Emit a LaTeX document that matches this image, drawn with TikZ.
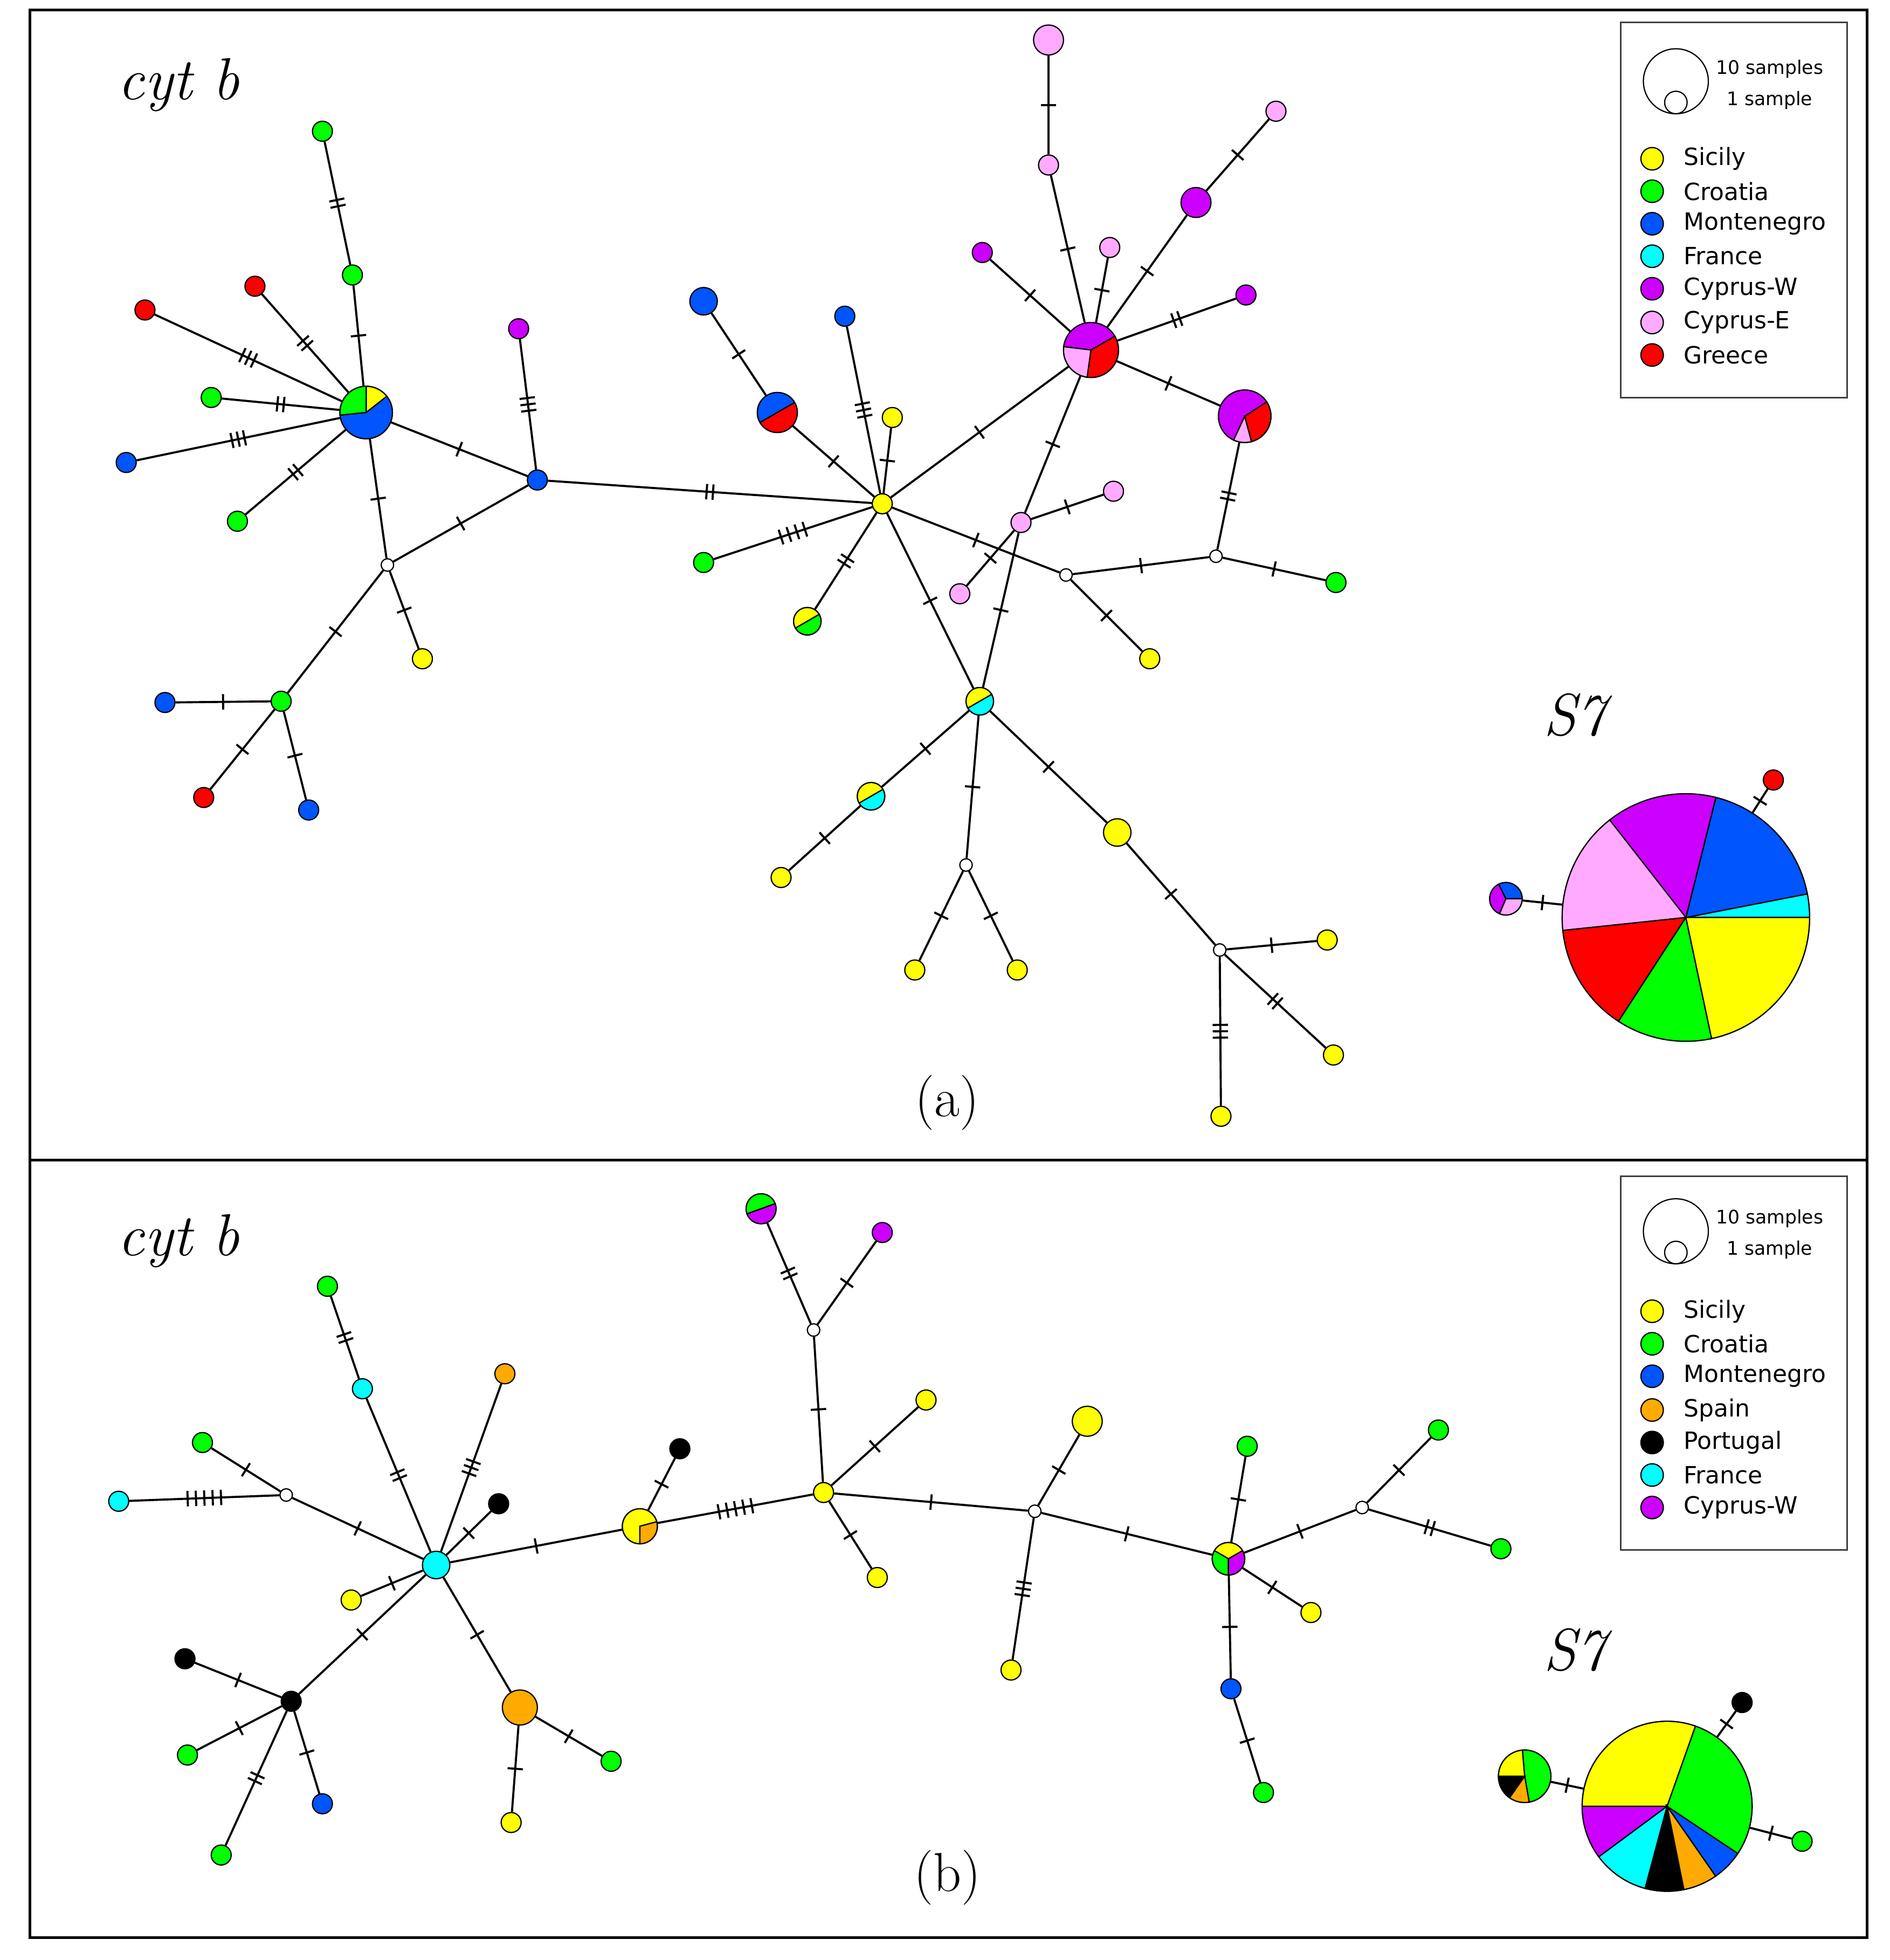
\documentclass[tikz,border=0pt]{standalone}
\usepackage{fontspec}
\newfontfamily\lgf{DejaVu Sans}
\usetikzlibrary{decorations.markings}
\definecolor{cY}{RGB}{255,255,0}
\definecolor{cG}{RGB}{0,255,0}
\definecolor{cB}{RGB}{0,85,255}
\definecolor{cC}{RGB}{0,255,255}
\definecolor{cP}{RGB}{204,0,255}
\definecolor{cK}{RGB}{255,170,255}
\definecolor{cR}{RGB}{255,0,0}
\definecolor{cO}{RGB}{255,170,0}
\newcommand\tks[1]{\foreach \k in {1,...,#1}{\draw[line width=0.95pt] ({(\k-(#1+1)/2)*(#1>3 ? 3.8 : 2.9)*1pt},-3.5pt) -- ++(0,7pt);}}
\newcommand\pw[5]{\filldraw[fill=#5,draw=black,line width=0.55pt] (#1.center) -- ++({-(#3)}:#2) arc[start angle={-(#3)},end angle={-(#4)},radius=#2] -- cycle;}
\begin{document}
\begin{tikzpicture}[x=0.02cm,y=-0.02cm,
  hp/.style={circle,draw=black,line width=0.55pt,inner sep=0pt,minimum size=#1*0.04cm},
  ed/.style={line width=0.95pt},
  tk/.style={postaction={decorate,decoration={markings,mark=at position 0.5 with {\tks{#1}}}}},
  ttl/.style={font=\fontsize{27}{30}\selectfont\itshape},
  lab/.style={font=\fontsize{25}{28}\selectfont},
  lgt/.style={font=\lgf\fontsize{10.8}{13}\selectfont,anchor=west,inner sep=0pt},
  lgs/.style={font=\lgf\fontsize{8.5}{10}\selectfont,inner sep=0pt}]
\useasboundingbox (0,0) rectangle (1512,1568);
\fill[white] (0,0) rectangle (1512,1568);
\draw[line width=1.1pt] (24,8) rectangle (1494,1550);
\draw[line width=1.1pt] (24,928) -- (1494,928);

% ---------- labels
\node[ttl] (ta) at (143,68) {cyt b};
\node[ttl] (tb) at (143,993) {cyt b};
\node[lab] (la) at (758,882) {(a)};
\node[lab] (lb) at (758,1502) {(b)};
\node[ttl] (s7a) at (1260,572) {S7};
\node[ttl] (s7b) at (1260,1320) {S7};

% ---------- legend (a)
\draw[line width=0.8pt,draw=black!75] (1297,18) rectangle (1478,318);
\node[hp=26,fill=white] (lga1) at (1341,65) {};
\node[hp=9,fill=white] (lga2) at (1341,82) {};
\node[lgs] (lgat1) at (1416,55) {10 samples};
\node[lgs] (lgat2) at (1416,80) {1 sample};
\node[hp=9,fill=cY] (lgaY) at (1322,127) {};
\node[hp=9,fill=cG] (lgaG) at (1322,153) {};
\node[hp=9,fill=cB] (lgaB) at (1322,179) {};
\node[hp=9,fill=cC] (lgaC) at (1322,205) {};
\node[hp=9,fill=cP] (lgaP) at (1322,231) {};
\node[hp=9,fill=cK] (lgaK) at (1322,258) {};
\node[hp=9,fill=cR] (lgaR) at (1322,284) {};
\node[lgt] (lgatY) at (1347,127) {Sicily};
\node[lgt] (lgatG) at (1347,153) {Croatia};
\node[lgt] (lgatB) at (1347,179) {Montenegro};
\node[lgt] (lgatC) at (1347,205) {France};
\node[lgt] (lgatP) at (1347,231) {Cyprus-W};
\node[lgt] (lgatK) at (1347,258) {Cyprus-E};
\node[lgt] (lgatR) at (1347,284) {Greece};

% ---------- legend (b)
\draw[line width=0.8pt,draw=black!75] (1297,941) rectangle (1478,1240);
\node[hp=26,fill=white] (lgb1) at (1341,985) {};
\node[hp=9,fill=white] (lgb2) at (1341,1002) {};
\node[lgs] (lgbt1) at (1416,975) {10 samples};
\node[lgs] (lgbt2) at (1416,1000) {1 sample};
\node[hp=9,fill=cY] (lgbY) at (1322,1049) {};
\node[hp=9,fill=cG] (lgbG) at (1322,1075) {};
\node[hp=9,fill=cB] (lgbB) at (1322,1101) {};
\node[hp=9,fill=cO] (lgbO) at (1322,1128) {};
\node[hp=9,fill=black] (lgbK) at (1322,1154) {};
\node[hp=9,fill=cC] (lgbC) at (1322,1180) {};
\node[hp=9,fill=cP] (lgbP) at (1322,1206) {};
\node[lgt] (lgbtY) at (1347,1049) {Sicily};
\node[lgt] (lgbtG) at (1347,1075) {Croatia};
\node[lgt] (lgbtB) at (1347,1101) {Montenegro};
\node[lgt] (lgbtO) at (1347,1128) {Spain};
\node[lgt] (lgbtK) at (1347,1154) {Portugal};
\node[lgt] (lgbtC) at (1347,1180) {France};
\node[lgt] (lgbtP) at (1347,1206) {Cyprus-W};

% ================= panel (a) nodes
\node[hp=21] (ahub) at (293,330) {};
\node[hp=8,fill=cG] (aG1) at (258,105) {};
\node[hp=8,fill=cG] (aG2) at (282,220) {};
\node[hp=8,fill=cR] (aR1) at (204,229) {};
\node[hp=8,fill=cR] (aR2) at (116,248) {};
\node[hp=8,fill=cG] (aG3) at (169,318) {};
\node[hp=8,fill=cB] (aB1) at (101,370) {};
\node[hp=8,fill=cG] (aG4) at (190,417) {};
\node[hp=8,fill=cB] (aB2) at (430,384) {};
\node[hp=8,fill=cP] (aP1) at (415,263) {};
\node[hp=5,fill=white] (aW1) at (310,452) {};
\node[hp=8,fill=cY] (aY1) at (338,527) {};
\node[hp=8,fill=cG] (aG5) at (225,561) {};
\node[hp=8,fill=cB] (aB3) at (132,562) {};
\node[hp=8,fill=cR] (aR3) at (163,638) {};
\node[hp=8,fill=cB] (aB4) at (247,648) {};
\node[hp=8,fill=cY] (aY) at (706,403) {};
\node[hp=16] (aBR) at (622,330) {};
\node[hp=11,fill=cB] (aB5) at (563,241) {};
\node[hp=8,fill=cB] (aB6) at (676,253) {};
\node[hp=8,fill=cY] (aY2) at (714,334) {};
\node[hp=8,fill=cG] (aG6) at (563,450) {};
\node[hp=11] (aYG) at (646,497) {};
\node[hp=22] (aP) at (873,280) {};
\node[hp=12,fill=cK] (aK1) at (839,32) {};
\node[hp=8,fill=cK] (aK2) at (839,132) {};
\node[hp=8,fill=cP] (aP2) at (786,202) {};
\node[hp=8,fill=cK] (aK3) at (888,198) {};
\node[hp=12,fill=cP] (aP3) at (957,162) {};
\node[hp=8,fill=cK] (aK4) at (1021,89) {};
\node[hp=8,fill=cP] (aP4) at (997,236) {};
\node[hp=21] (aQ) at (996,333) {};
\node[hp=5,fill=white] (aW2) at (973,445) {};
\node[hp=8,fill=cG] (aG7) at (1069,466) {};
\node[hp=5,fill=white] (aW3) at (853,460) {};
\node[hp=8,fill=cY] (aY3) at (920,527) {};
\node[hp=8,fill=cK] (aK5) at (817,418) {};
\node[hp=8,fill=cK] (aK6) at (891,393) {};
\node[hp=8,fill=cK] (aK7) at (768,475) {};
\node[hp=11] (aYC) at (784,561) {};
\node[hp=11] (aYC2) at (697,637) {};
\node[hp=8,fill=cY] (aY4) at (625,702) {};
\node[hp=5,fill=white] (aW4) at (773,692) {};
\node[hp=8,fill=cY] (aY5) at (732,776) {};
\node[hp=8,fill=cY] (aY6) at (814,776) {};
\node[hp=11,fill=cY] (aY7) at (894,666) {};
\node[hp=5,fill=white] (aW5) at (976,760) {};
\node[hp=8,fill=cY] (aY8) at (1062,752) {};
\node[hp=8,fill=cY] (aY9) at (1067,844) {};
\node[hp=8,fill=cY] (aY10) at (977,893) {};
\node[hp=99] (aS) at (1349,734) {};
\node[hp=13] (aS2) at (1205,719) {};
\node[hp=8,fill=cR] (aR4) at (1419,624) {};

% pies (a)
\pw{ahub}{21}{38}{90}{cY}\pw{ahub}{21}{90}{186}{cG}\pw{ahub}{21}{186}{398}{cB}
\pw{aBR}{16}{30}{210}{cB}\pw{aBR}{16}{210}{390}{cR}
\pw{aYG}{11}{30}{210}{cY}\pw{aYG}{11}{210}{390}{cG}
\pw{aP}{22}{30}{173}{cP}\pw{aP}{22}{173}{262}{cK}\pw{aP}{22}{262}{390}{cR}
\pw{aQ}{21}{33}{245}{cP}\pw{aQ}{21}{245}{285}{cK}\pw{aQ}{21}{285}{393}{cR}
\pw{aYC}{11}{30}{210}{cY}\pw{aYC}{11}{210}{390}{cC}
\pw{aYC2}{11}{30}{210}{cY}\pw{aYC2}{11}{210}{390}{cC}
\pw{aS}{99}{0}{11}{cC}\pw{aS}{99}{11}{76}{cB}\pw{aS}{99}{76}{128}{cP}\pw{aS}{99}{128}{186}{cK}
\pw{aS}{99}{186}{237}{cR}\pw{aS}{99}{237}{282}{cG}\pw{aS}{99}{282}{360}{cY}
\pw{aS2}{13}{0}{117}{cB}\pw{aS2}{13}{117}{247}{cP}\pw{aS2}{13}{247}{360}{cK}

% edges (a)
\draw[ed,tk=2] (aG1) -- (aG2);
\draw[ed,tk=1] (aG2) -- (ahub);
\draw[ed,tk=2] (aR1) -- (ahub);
\draw[ed,tk=3] (aR2) -- (ahub);
\draw[ed,tk=2] (aG3) -- (ahub);
\draw[ed,tk=3] (aB1) -- (ahub);
\draw[ed,tk=2] (aG4) -- (ahub);
\draw[ed,tk=1] (ahub) -- (aB2);
\draw[ed,tk=3] (aP1) -- (aB2);
\draw[ed,tk=1] (ahub) -- (aW1);
\draw[ed,tk=1] (aW1) -- (aB2);
\draw[ed,tk=1] (aW1) -- (aY1);
\draw[ed,tk=1] (aW1) -- (aG5);
\draw[ed,tk=1] (aG5) -- (aB3);
\draw[ed,tk=1] (aG5) -- (aR3);
\draw[ed,tk=1] (aG5) -- (aB4);
\draw[ed,tk=2] (aB2) -- (aY);
\draw[ed,tk=1] (aB5) -- (aBR);
\draw[ed,tk=1] (aBR) -- (aY);
\draw[ed,tk=3] (aB6) -- (aY);
\draw[ed,tk=1] (aY2) -- (aY);
\draw[ed,tk=4] (aG6) -- (aY);
\draw[ed,tk=2] (aYG) -- (aY);
\draw[ed,tk=1] (aY) -- (aP);
\draw[ed,tk=1] (aK1) -- (aK2);
\draw[ed,tk=1] (aK2) -- (aP);
\draw[ed,tk=1] (aP2) -- (aP);
\draw[ed,tk=1] (aK3) -- (aP);
\draw[ed,tk=1] (aP3) -- (aP);
\draw[ed,tk=1] (aK4) -- (aP3);
\draw[ed,tk=2] (aP4) -- (aP);
\draw[ed,tk=1] (aP) -- (aQ);
\draw[ed,tk=2] (aQ) -- (aW2);
\draw[ed,tk=1] (aW2) -- (aG7);
\draw[ed,tk=1] (aW2) -- (aW3);
\draw[ed,tk=1] (aY) -- (aW3);
\draw[ed,tk=1] (aW3) -- (aY3);
\draw[ed,tk=1] (aK5) -- (aK6);
\draw[ed,tk=1] (aK5) -- (aK7);
\draw[ed,tk=1] (aP) -- (aK5);
\draw[ed,tk=1] (aK5) -- (aYC);
\draw[ed,tk=1] (aY) -- (aYC);
\draw[ed,tk=1] (aYC) -- (aYC2);
\draw[ed,tk=1] (aYC2) -- (aY4);
\draw[ed,tk=1] (aYC) -- (aW4);
\draw[ed,tk=1] (aW4) -- (aY5);
\draw[ed,tk=1] (aW4) -- (aY6);
\draw[ed,tk=1] (aYC) -- (aY7);
\draw[ed,tk=1] (aY7) -- (aW5);
\draw[ed,tk=1] (aW5) -- (aY8);
\draw[ed,tk=2] (aW5) -- (aY9);
\draw[ed,tk=3] (aW5) -- (aY10);
\draw[ed,tk=1] (aS2) -- (aS);
\draw[ed,tk=1] (aR4) -- (aS);

% ================= panel (b) nodes
\node[hp=11,fill=cC] (bC) at (349,1252) {};
\node[hp=8,fill=cG] (bG1) at (262,1029) {};
\node[hp=8,fill=cC] (bC2) at (290,1111) {};
\node[hp=8,fill=cO] (bO1) at (404,1099) {};
\node[hp=8,fill=black] (bK1) at (399,1203) {};
\node[hp=5,fill=white] (bW1) at (229,1196) {};
\node[hp=8,fill=cG] (bG2) at (162,1154) {};
\node[hp=8,fill=cC] (bC3) at (95,1201) {};
\node[hp=8,fill=cY] (bY1) at (281,1280) {};
\node[hp=8,fill=black] (bK2) at (233,1361) {};
\node[hp=8,fill=black] (bK3) at (148,1327) {};
\node[hp=8,fill=cG] (bG3) at (150,1404) {};
\node[hp=8,fill=cG] (bG4) at (177,1484) {};
\node[hp=8,fill=cB] (bB1) at (258,1443) {};
\node[hp=14,fill=cO] (bO2) at (416,1366) {};
\node[hp=8,fill=cY] (bY2) at (409,1458) {};
\node[hp=8,fill=cG] (bG5) at (489,1409) {};
\node[hp=14] (bYO) at (512,1221) {};
\node[hp=8,fill=black] (bK4) at (544,1159) {};
\node[hp=8,fill=cY] (bY) at (659,1194) {};
\node[hp=5,fill=white] (bW2) at (651,1064) {};
\node[hp=12] (bGP) at (609,967) {};
\node[hp=8,fill=cP] (bP1) at (706,986) {};
\node[hp=8,fill=cY] (bY3) at (741,1120) {};
\node[hp=8,fill=cY] (bY4) at (702,1262) {};
\node[hp=5,fill=white] (bW3) at (828,1209) {};
\node[hp=12,fill=cY] (bY5) at (870,1137) {};
\node[hp=8,fill=cY] (bY6) at (809,1336) {};
\node[hp=13] (bP3) at (983,1247) {};
\node[hp=8,fill=cG] (bG6) at (998,1157) {};
\node[hp=8,fill=cY] (bY7) at (1049,1290) {};
\node[hp=8,fill=cB] (bB2) at (985,1351) {};
\node[hp=8,fill=cG] (bG7) at (1011,1434) {};
\node[hp=5,fill=white] (bW4) at (1090,1206) {};
\node[hp=8,fill=cG] (bG8) at (1151,1144) {};
\node[hp=8,fill=cG] (bG9) at (1201,1239) {};
\node[hp=68] (bS) at (1334,1445) {};
\node[hp=21] (bS2) at (1220,1421) {};
\node[hp=8,fill=black] (bK5) at (1394,1362) {};
\node[hp=8,fill=cG] (bG10) at (1442,1473) {};

% pies (b)
\pw{bYO}{14}{15}{270}{cY}\pw{bYO}{14}{270}{375}{cO}
\pw{bGP}{12}{20}{200}{cG}\pw{bGP}{12}{200}{380}{cP}
\pw{bP3}{13}{30}{150}{cY}\pw{bP3}{13}{150}{270}{cG}\pw{bP3}{13}{270}{390}{cP}
\pw{bS}{68}{70.5}{180}{cY}\pw{bS}{68}{180}{216.5}{cP}\pw{bS}{68}{216.5}{255}{cC}
\pw{bS}{68}{255}{281.4}{black}\pw{bS}{68}{281.4}{304.8}{cO}\pw{bS}{68}{304.8}{326.3}{cB}
\pw{bS}{68}{326.3}{430.5}{cG}
\pw{bS2}{21}{280}{455}{cG}\pw{bS2}{21}{95}{180}{cY}\pw{bS2}{21}{180}{235}{black}\pw{bS2}{21}{235}{280}{cO}

% edges (b)
\draw[ed,tk=2] (bG1) -- (bC2);
\draw[ed,tk=2] (bC2) -- (bC);
\draw[ed,tk=3] (bO1) -- (bC);
\draw[ed,tk=1] (bK1) -- (bC);
\draw[ed,tk=1] (bW1) -- (bC);
\draw[ed,tk=1] (bG2) -- (bW1);
\draw[ed,tk=5] (bC3) -- (bW1);
\draw[ed,tk=1] (bY1) -- (bC);
\draw[ed,tk=1] (bK2) -- (bC);
\draw[ed,tk=1] (bK3) -- (bK2);
\draw[ed,tk=1] (bG3) -- (bK2);
\draw[ed,tk=2] (bG4) -- (bK2);
\draw[ed,tk=1] (bB1) -- (bK2);
\draw[ed,tk=1] (bO2) -- (bC);
\draw[ed,tk=1] (bO2) -- (bY2);
\draw[ed,tk=1] (bO2) -- (bG5);
\draw[ed,tk=1] (bC) -- (bYO);
\draw[ed,tk=1] (bK4) -- (bYO);
\draw[ed,tk=5] (bYO) -- (bY);
\draw[ed,tk=1] (bY) -- (bW2);
\draw[ed,tk=2] (bW2) -- (bGP);
\draw[ed,tk=1] (bW2) -- (bP1);
\draw[ed,tk=1] (bY) -- (bY3);
\draw[ed,tk=1] (bY) -- (bY4);
\draw[ed,tk=1] (bY) -- (bW3);
\draw[ed,tk=1] (bW3) -- (bY5);
\draw[ed,tk=3] (bW3) -- (bY6);
\draw[ed,tk=1] (bW3) -- (bP3);
\draw[ed,tk=1] (bP3) -- (bG6);
\draw[ed,tk=1] (bP3) -- (bY7);
\draw[ed,tk=1] (bP3) -- (bB2);
\draw[ed,tk=1] (bB2) -- (bG7);
\draw[ed,tk=1] (bP3) -- (bW4);
\draw[ed,tk=1] (bW4) -- (bG8);
\draw[ed,tk=2] (bW4) -- (bG9);
\draw[ed,tk=1] (bS2) -- (bS);
\draw[ed,tk=1] (bK5) -- (bS);
\draw[ed,tk=1] (bG10) -- (bS);
\end{tikzpicture}
\end{document}
